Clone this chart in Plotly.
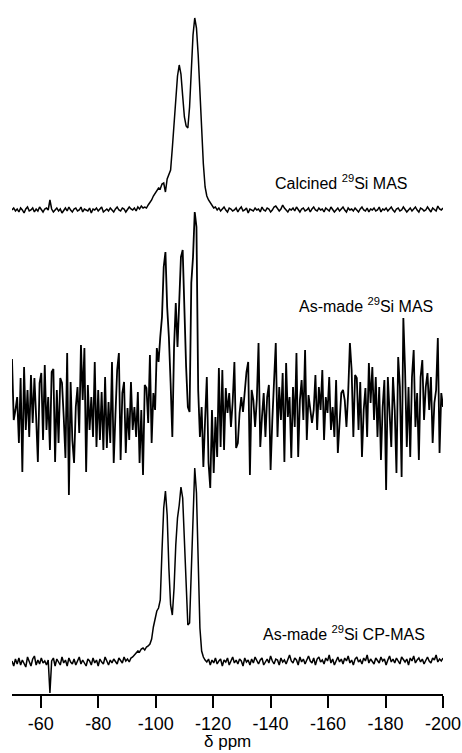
import plotly.graph_objects as go

# Sampling grid (ppm), 0.6 ppm spacing from -50 to -200
PPM_START = -50.0
PPM_STEP = -0.6
N_POINTS = 251
ppm = [round(PPM_START + PPM_STEP * i, 1) for i in range(N_POINTS)]

# Calcined 29Si MAS intensities (arbitrary units)
calcined = [
    0, 2, -1, 1, -2, 2, 0, -3, 1, 3,
    -1, 0, 2, -2, 1, -1, 3, 0, -2, 1,
    2, 0, 10, 1, -2, 0, 2, -1, 1, -3,
    0, 2, -1, 3, 0, -2, 1, 2, -1, 0,
    3, -2, 1, 0, -1, 2, -3, 1, 0, 2,
    -1, 1, 3, -2, 0, 1, -1, 2, 0, -2,
    1, 3, 0, -1, 2, 1, -2, 0, 3, 1,
    0, 2, -1, 3, 1, 4, 2, 3, 2, 5,
    7, 10, 14, 17, 20, 22, 21, 26, 27, 18,
    31, 35, 40, 62, 88, 115, 134, 145, 136, 114,
    93, 84, 82, 103, 143, 175, 192, 182, 155, 115,
    80, 46, 23, 14, 10, 7, 4, 2, 3, 0,
    2, -1, 1, 3, 0, -2, 2, 1, -1, 0,
    2, -2, 1, 3, -1, 0, 2, -3, 1, 0,
    -1, 2, 0, 1, -2, 3, 0, -1, 2, 1,
    -2, 0, 3, 4, 2, -1, 1, 5, 2, 0,
    -2, 1, 0, 2, -1, 3, 0, -2, 1, 2,
    -1, 0, 2, -2, 1, 3, 0, -1, 2, 0,
    1, -2, 2, 0, -1, 3, 1, -2, 0, 2,
    -1, 1, 3, 0, -2, 2, 0, 1, -1, 2,
    0, -2, 1, 3, 0, -1, 2, -2, 1, 0,
    2, -1, 0, 3, -2, 1, 0, 2, -1, 1,
    3, 0, -2, 1, 2, -1, 0, 3, 1, -2,
    0, 2, -1, 1, 3, 0, -2, 2, 1, -1,
    0, 3, 1, -2, 2, 0, -1, 4, 1, 0,
    2,
]

# As-made 29Si MAS intensities (arbitrary units)
asmade_mas = [
    48, -13, -3, 10, -36, 29, -65, 40, -23, 17,
    -30, 32, -16, 29, -10, -55, 24, 34, -33, 42,
    -23, 10, -43, 35, 38, -55, 17, -36, 29, 24,
    -10, -51, 54, -88, 25, -33, -56, 0, 20, -26,
    62, 7, 59, -65, 22, -23, 10, -30, 45, -40,
    17, -33, 15, -43, 30, -41, 5, -36, 45, -56,
    -8, 37, 54, -53, 14, 25, -46, -1, -33, 25,
    -23, 0, -30, 15, -56, -3, -68, 22, 19, -16,
    52, -36, 14, -3, 59,
    45, 70, 90, 140, 155, 100, 70, 24, -30, 60,
    104, 60, 110, 150, 157, 90, 40, 0, -5, 124,
    150, 195, 180,
    17, -30, 0, -60, -13, 30, -56, -81, -3, -66,
    -10, -50, 39, -40, 37, -43, 19, -6, 14, -20,
    5, 45, -41, -36, -6, 10, -5, 17, 35, 45,
    -68, 17, 7, -20, 7, 64, -40, -10, 14, -30,
    10, 22, -63, -13, 19, 64, -30, 20, -13, 34,
    -55, 44, -10, 10, -51, 20, -20, 54, -50, 7,
    27, -13, 57, -33, 12, -3, -16, -3, 32, -23,
    20, -3, 37, -33, 10, -6, 30, -23, 0, -30,
    27, -46, -16, 14, 17, 7, -20, 14, 64, 37,
    -30, 32, 29, -23, 25, -50, -3, 19, -30, 44,
    4, 40, -13, 30, -30, 20, -53, 0, 27, -83,
    30, -13, -40, 30, -3, -66, 50, 20, -70, 89,
    37, -40, 20, -50, 30, 57, -20, 14, -53, 30,
    47, -13, 20, 34, -3, 30, -36, 4, 17, 69,
    -46, 14, 0,
]

# As-made 29Si CP-MAS intensities (arbitrary units)
asmade_cpmas = [
    2, -3, 4, -1, 5, -2, 3, 0, -4, 6,
    1, -3, 4, 7, -2, 3, -1, 5, 0, 2,
    -2, 3, -30, 2, 5, -3, 4, 1, -2, 6,
    0, 3, -3, 5, 1, -1, 4, -2, 2, 6,
    -1, 3, 0, -3, 4, 2, -2, 5, 0, 3,
    -3, 4, 1, -1, 6, 2, -2, 3, 0, 4,
    2, -1, 5, 3, 0, 6, 2, 4, 1, 5,
    6, 8, 10, 12, 11, 14, 15, 13, 16, 17,
    19, 24, 36, 45, 52, 55, 63, 112, 155, 172,
    148, 95, 58, 48, 75, 118, 145, 158, 176, 165,
    122, 72, 38, 40, 95, 160, 195, 170, 100, 35,
    12, 6, 3, 1, 4, -2, 3, 0, 5, -1,
    2, 4, -3, 3, 1, 5, -2, 2, 6, 0,
    3, -1, 4, 2, -3, 5, 1, 3, -2, 4,
    0, 6, 2, -1, 3, 5, -2, 1, 4, 0,
    7, 2, -1, 4, 3, -2, 5, 1, 3, -1,
    4, 8, 2, 0, 5, 3, -2, 6, 1, 4,
    -1, 3, 7, 2, 0, 5, -2, 4, 6, 1,
    3, -1, 5, 2, 8, 0, 4, -2, 3, 6,
    1, 4, -1, 5, 2, 7, 0, 3, -2, 4,
    6, 1, 3, -1, 5, 2, 8, 0, 4, 2,
    -1, 5, 3, 0, 6, 2, 4, -2, 3, 7,
    1, 4, 0, 5, 2, -1, 6, 3, 1, 4,
    -2, 5, 2, 7, 0, 3, 5, 1, 4, -1,
    3, 6, 2, 0, 5, 3, 8, 1, 4, 2,
    5,
]

labels = [
    "Calcined <sup>29</sup>Si MAS",
    "As-made <sup>29</sup>Si MAS",
    "As-made <sup>29</sup>Si CP-MAS",
]
tick_values = [-60, -80, -100, -120, -140, -160, -180, -200]
tick_text = ["-60", "-80", "-100", "-120", "-140", "-160", "-180", "-200"]
x_title = "δ ppm"

# Vertical stacking offsets (layout only)
offsets = [484, 287, 31]
widths = [1.5, 1.8, 1.5]
series = [calcined, asmade_mas, asmade_cpmas]

FONT = "Liberation Sans, Arial, sans-serif"

fig = go.Figure()
for vals, off, w in zip(series, offsets, widths):
    fig.add_trace(go.Scatter(
        x=ppm, y=[v + off for v in vals], mode="lines",
        line=dict(color="black", width=w), showlegend=False,
        hoverinfo="skip",
    ))

# label positions (paper x of right edge, y in data units)
label_pos = [(0.9234, 512), (0.9814, 389), (0.9629, 61)]
for text, (lx, ly) in zip(labels, label_pos):
    fig.add_annotation(
        text=text, xref="paper", x=lx, xanchor="right",
        yref="y", y=ly, yanchor="middle", showarrow=False,
        font=dict(family=FONT, size=16, color="black"),
    )

fig.add_annotation(
    text=x_title, xref="paper", x=0.5, xanchor="center",
    yref="paper", y=0, yanchor="top", yshift=-36, showarrow=False,
    font=dict(family=FONT, size=17, color="black"),
)

fig.update_layout(
    width=462, height=753,
    margin=dict(l=12, r=19, t=0, b=59, pad=0),
    template="none",
    paper_bgcolor="white", plot_bgcolor="white",
    font=dict(family=FONT, size=18, color="black"),
    xaxis=dict(
        range=[-50, -200], tickvals=tick_values, ticktext=tick_text,
        ticklabeloverflow="allow",
        showline=True, linecolor="black", linewidth=2,
        ticks="outside", ticklen=12, tickwidth=2, tickcolor="black",
        showgrid=False, zeroline=False, automargin=False,
        tickfont=dict(family=FONT, size=18, color="black"),
    ),
    yaxis=dict(
        range=[0, 694], visible=False, showgrid=False, zeroline=False,
        automargin=False,
    ),
)

fig.write_html("out.html")
